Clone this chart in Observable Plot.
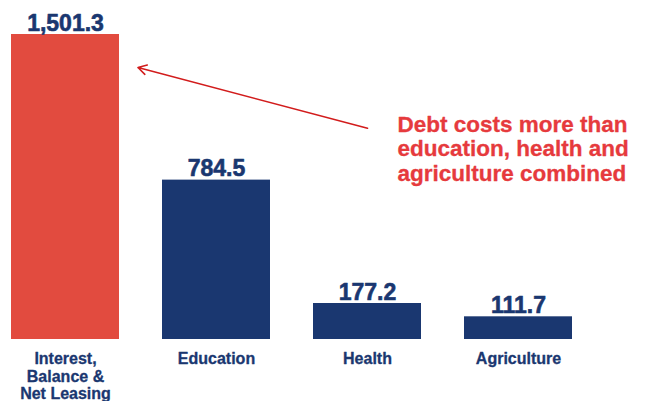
<!DOCTYPE html>
<html>
<head>
<meta charset="utf-8">
<script src="https://cdn.jsdelivr.net/npm/d3@7"></script>
<script src="https://cdn.jsdelivr.net/npm/@observablehq/plot@0.6"></script>
<style>
  html, body { margin: 0; padding: 0; background: #fff; }
  #chart svg { display: block; }
  #chart svg text { font-family: "Liberation Sans", Arial, sans-serif; }
</style>
</head>
<body>
<div id="chart"></div>
<script>
// ---- data ----
const categories = ["Interest, Balance & Net Leasing", "Education", "Health", "Agriculture"];
const values = [1501.3, 784.5, 177.2, 111.7];
const axisLabels = ["Interest,\nBalance &\nNet Leasing", "Education", "Health", "Agriculture"];
const noteText = ["Debt costs more than\neducation, health and\nagriculture combined"];
// annotation anchors, in data units (category, value)
const noteCategory = ["Health"];
const noteValue = [940];
const arrowFromCategory = ["Health"];
const arrowFromValue = [1040];
const arrowToCategory = [categories[0]];
const arrowToValue = [1433];

const NAVY = "#1a3770";
const RED_BAR = "#e24b3f";
const RED_TEXT = "#e63a3d";
const RED_ARROW = "#d21c1c";

const data = categories.map((c, i) => ({category: c, value: values[i], label: axisLabels[i]}));
const fmt = d3.format(",.1f");

const chart = Plot.plot({
  width: 646,
  height: 401,
  marginTop: 34,
  marginBottom: 62,
  marginLeft: 10,
  marginRight: 73,
  x: {domain: categories, paddingInner: 0.288, paddingOuter: 0, axis: null},
  y: {domain: [0, 1501.3], axis: null},
  style: {fontFamily: "Liberation Sans, Arial, sans-serif", background: "#fff"},
  marks: [
    Plot.barY(data, {
      x: "category", y: "value",
      fill: d => d.category === categories[0] ? RED_BAR : NAVY
    }),
    Plot.text(data, {
      x: "category", y: "value", text: d => fmt(d.value),
      lineAnchor: "bottom", dy: -4,
      fontSize: 23, fontWeight: "bold", fill: NAVY,
      stroke: NAVY, strokeWidth: 0.6
    }),
    // category labels under the bars
    Plot.text(data, {
      x: "category", y: () => 0, text: "label",
      lineAnchor: "top", dy: 12,
      fontSize: 16, fontWeight: "bold", fill: NAVY,
      stroke: NAVY, strokeWidth: 0.3, lineHeight: 1.1
    }),
    Plot.arrow([0], {
      x1: i => arrowFromCategory[i], y1: i => arrowFromValue[i],
      x2: i => arrowToCategory[i], y2: i => arrowToValue[i],
      insetEnd: 75, stroke: RED_ARROW, strokeWidth: 1.6, headLength: 9
    }),
    Plot.text(noteText, {
      x: (d, i) => noteCategory[i], y: (d, i) => noteValue[i], text: d => d,
      textAnchor: "start", lineAnchor: "middle", dx: 30,
      fontSize: 22.5, fontWeight: "bold", fill: RED_TEXT,
      stroke: RED_TEXT, strokeWidth: 0.3, lineHeight: 1.09
    })
  ]
});
document.getElementById("chart").appendChild(chart);
</script>
</body>
</html>
